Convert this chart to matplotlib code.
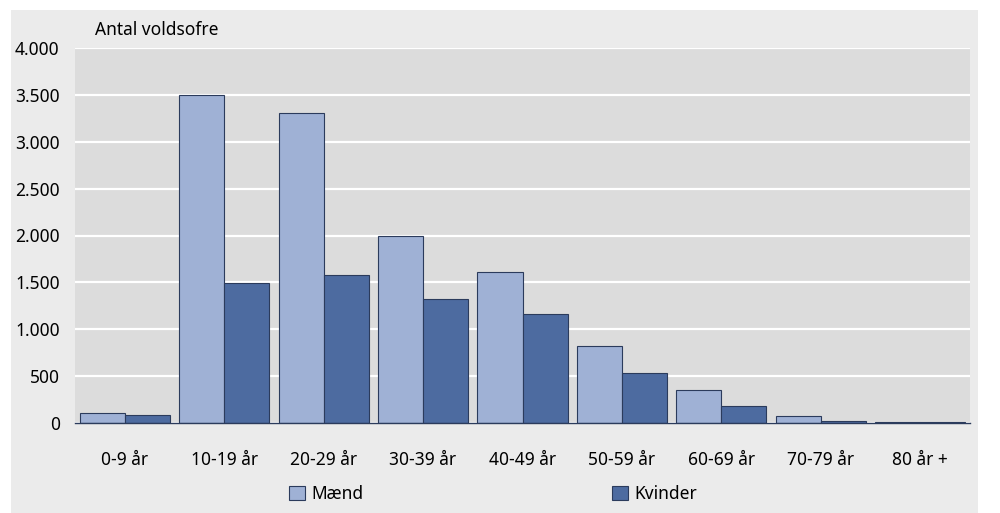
import numpy as np
import matplotlib.pyplot as plt
import matplotlib as mpl
from matplotlib.patches import Rectangle
from matplotlib.ticker import FuncFormatter

mpl.rcParams.update({
    'font.family': ['Noto Sans', 'DejaVu Sans'],
    'font.size': 12.5,
})

# data
grupper = ['0-9 år', '10-19 år', '20-29 år', '30-39 år', '40-49 år',
           '50-59 år', '60-69 år', '70-79 år', '80 år +']
maend = [105, 3500, 3305, 2000, 1610, 820, 352, 75, 12]
kvinder = [85, 1495, 1580, 1320, 1165, 535, 180, 22, 12]

fig = plt.figure(figsize=(10, 5.13), dpi=100)
fig.patch.set_facecolor('white')
# grey frame behind everything
fig.patches.append(Rectangle((0.011, 0.0), 0.967, 1 - 10 / 513,
                             transform=fig.transFigure, facecolor='#ebebeb',
                             edgecolor='none', zorder=-10))

ax = fig.add_axes([0.075, 1 - 423 / 513, 0.895, 375 / 513])
ax.set_facecolor('#dcdcdc')

x = np.arange(len(grupper))
w = 0.453
b1 = ax.bar(x - w / 2, maend, w, color='#9fb1d5', edgecolor='#2b3b5c',
            linewidth=0.8, label='Mænd', zorder=3)
b2 = ax.bar(x + w / 2, kvinder, w, color='#4d6ba0', edgecolor='#2b3b5c',
            linewidth=0.8, label='Kvinder', zorder=3)

ax.set_xlim(-0.5, len(grupper) - 0.5)
ax.set_ylim(0, 4000)
ax.set_yticks(range(0, 4001, 500))
ax.yaxis.set_major_formatter(FuncFormatter(lambda v, p: f'{int(v):,}'.replace(',', '.')))
ax.grid(axis='y', color='white', linewidth=1.6, zorder=0)
ax.set_axisbelow(True)
ax.set_xticks(x)
ax.set_xticklabels(grupper)
ax.tick_params(axis='both', length=0)
ax.tick_params(axis='x', pad=20)
ax.tick_params(axis='y', pad=11)
for s in ['top', 'right', 'left']:
    ax.spines[s].set_visible(False)
ax.spines['bottom'].set_color('#2b3b5c')
ax.spines['bottom'].set_linewidth(1.0)
ax.spines['bottom'].set_zorder(4)

fig.text(0.095, 1 - 30 / 513, 'Antal voldsofre', va='center', ha='left')

kw = dict(frameon=False, handlelength=0.9, handleheight=0.9,
          handletextpad=0.4, borderpad=0, borderaxespad=0)
fig.legend(handles=[b1], loc='center left',
           bbox_to_anchor=(0.289, 1 - 494 / 513), **kw)
fig.legend(handles=[b2], loc='center left',
           bbox_to_anchor=(0.612, 1 - 494 / 513), **kw)

fig.savefig('out.png', dpi=100)
